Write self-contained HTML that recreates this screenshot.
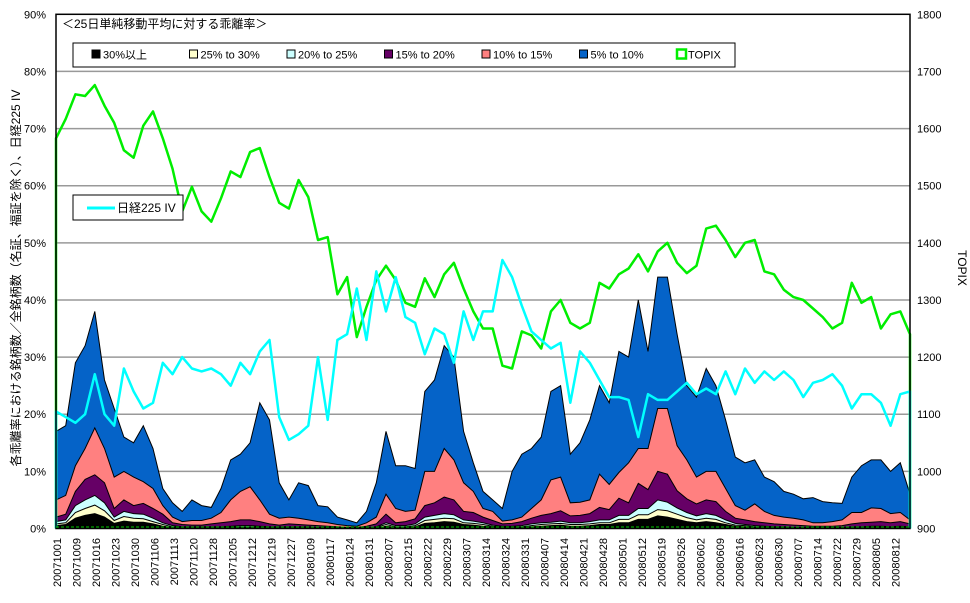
<!DOCTYPE html>
<html><head><meta charset="utf-8"><style>
html,body{margin:0;padding:0;background:#fff;}
svg{display:block;font-family:"Liberation Sans","Noto Sans CJK JP",sans-serif;}
</style></head><body>
<svg id="chart" width="970" height="603" viewBox="0 0 970 603"></svg>
<script>
// ---- data ----
const dateLabels=["20071001","20071009","20071016","20071023","20071030","20071106","20071113","20071120","20071128","20071205","20071212","20071219","20071227","20080109","20080117","20080124","20080131","20080207","20080215","20080222","20080229","20080307","20080314","20080324","20080331","20080407","20080414","20080421","20080428","20080501","20080512","20080519","20080526","20080602","20080609","20080616","20080623","20080630","20080707","20080714","20080722","20080729","20080805","20080812"];
const leftTicks=[0,10,20,30,40,50,60,70,80,90];
const rightTicks=[900,1000,1100,1200,1300,1400,1500,1600,1700,1800];
// cumulative stacked tops (% of stocks)
const cum5to10=[17,18,29,32,38,26,21,16,15,18,14,7,4.5,3,5,4,3.7,7,12,13,15,22,19,8,5,8,7.5,4,3.8,2,1.5,1,3,8,17,11,11,10.5,24,26,32,30,17,11.5,6.5,5,3.5,10,13,14,16,24,25,13,15,19,25,22,31,30,40,31,44,44,34,25,23,28,25,19,12.5,11.5,12,9,8.2,6.5,6,5.2,5.4,4.7,4.5,4.4,9,11,12,12,10,11.5,6];
const cum10to15=[5,5.8,11,14,17.6,14,9,10,9,8.2,7,4,2,1.2,1.4,1.4,1.8,2.8,5,6.5,7.3,5,2.5,1.8,2,1.8,1.5,1.2,1,0.7,0.5,0.4,1,2,6,3.5,3,3.2,10,10,14,12,8,6.5,3.5,3,1.3,1.5,2,3.5,5,8.5,9,4.5,4.6,5,9.5,7.7,9.8,11.5,14,14,21,21,14.5,12,9,10,10,7,4,3.2,4.3,3,2.3,2,1.8,1.5,1,1,1.2,1.5,2.8,2.8,3.6,3.5,2.6,2.8,1.5];
const cum15to20=[2,2.5,6.5,8.6,9.4,8,3.5,5,4,4.4,3.5,2.5,1,0.7,0.6,0.6,0.8,1,1.2,1.5,1.5,1.2,0.8,0.6,0.8,0.7,0.6,0.5,0.4,0.3,0.2,0.2,0.4,0.8,2.5,1,1.2,1.7,4,4.5,5.5,5,3,2.8,2,1.4,0.8,0.9,1.2,1.8,2.3,2.6,3.1,2.2,2.3,2.6,3.7,3.3,5.3,4.5,7.9,6.8,10,9.5,6.6,5.2,4.3,5,4.7,3,1.8,1.5,1.2,1,0.8,0.7,0.6,0.5,0.4,0.4,0.4,0.5,0.8,1,1.1,1.2,1,1.2,0.8];
const cum20to25=[1.2,1.5,4,5,5.8,4.5,2,3,2.6,2.5,1.8,1,0.5,0.3,0.3,0.3,0.3,0.3,0.4,0.5,0.5,0.4,0.3,0.3,0.3,0.3,0.3,0.2,0.2,0.2,0.1,0.1,0.2,0.3,1,0.5,0.5,0.8,2,2.3,2.6,2.4,1.5,1.3,1,0.6,0.4,0.4,0.5,0.8,1,1.1,1.3,1,1,1.2,1.5,1.5,2.3,2.3,3.5,3.5,5,4.6,3.6,2.8,2.2,2.6,2.3,1.5,0.9,0.7,0.5,0.4,0.3,0.3,0.2,0.2,0.2,0.2,0.2,0.2,0.3,0.3,0.4,0.4,0.3,0.4,0.3];
const cum25to30=[0.8,1,2.8,3.5,4.1,3.1,1.4,2.1,1.8,1.7,1.2,0.7,0.3,0.2,0.2,0.2,0.2,0.2,0.3,0.3,0.3,0.3,0.2,0.2,0.2,0.2,0.2,0.1,0.1,0.1,0.1,0.1,0.1,0.2,0.7,0.3,0.3,0.5,1.4,1.6,1.8,1.7,1,0.9,0.7,0.4,0.3,0.3,0.3,0.5,0.7,0.8,0.9,0.7,0.7,0.8,1,1,1.6,1.6,2.4,2.4,3.3,3.1,2.5,1.9,1.5,1.8,1.6,1,0.6,0.5,0.3,0.3,0.2,0.2,0.1,0.1,0.1,0.1,0.1,0.1,0.2,0.2,0.3,0.3,0.2,0.3,0.2];
const cum30plus=[0.5,0.7,1.8,2.3,2.6,2,0.9,1.3,1.1,1.1,0.8,0.4,0.2,0.1,0.1,0.1,0.1,0.1,0.2,0.2,0.2,0.2,0.1,0.1,0.1,0.1,0.1,0.1,0.1,0.1,0,0,0.1,0.1,0.4,0.2,0.2,0.3,0.9,1,1.2,1.1,0.7,0.6,0.4,0.3,0.2,0.2,0.2,0.3,0.4,0.5,0.6,0.4,0.4,0.5,0.7,0.7,1,1,1.6,1.6,2.2,2,1.6,1.2,1,1.2,1,0.7,0.4,0.3,0.2,0.2,0.1,0.1,0.1,0.1,0.1,0.1,0.1,0.1,0.1,0.1,0.2,0.2,0.1,0.2,0.1];
const topix=[1583,1617,1660,1657,1676,1640,1610,1562,1549,1605,1630,1583,1530,1455,1498,1455,1437,1478,1525,1515,1559,1566,1515,1470,1460,1510,1480,1405,1410,1310,1340,1235,1288,1335,1360,1335,1295,1288,1338,1305,1345,1365,1320,1280,1250,1250,1185,1180,1245,1238,1215,1280,1300,1260,1250,1260,1330,1320,1345,1355,1380,1350,1385,1400,1365,1347,1360,1425,1430,1405,1375,1400,1405,1350,1345,1318,1305,1300,1285,1270,1250,1260,1330,1295,1305,1250,1275,1280,1240];
const nikkeiIV=[20.5,19.5,18.5,20,27,20,18,28,24,21,22,29,27,30,28,27.5,28,27,25,29,27,31,33,19.5,15.5,16.5,18,30,19,33,34,42,33,45,38,44,37,36,30.5,35,34,29,38,33,38,38,47,44,39,34.5,33,31.5,32.5,22,31,29,26,23,23,22.5,16,23.5,22.5,22.5,24,25.5,23.5,24.5,23.5,27.5,23.5,28,25.5,27.5,26,27.5,26,23,25.5,26,27,25,21,23.5,23.5,22,18,23.5,24];

// ---- geometry ----
const X0=56,X1=910,Y0=528.5,Y90=14.3;
const N=topix.length;
const xs=i=>X0+i*(X1-X0)/(N-1);
const yL=p=>Y0-p*(Y0-Y90)/90;
const yR=v=>Y0-(v-900)*(Y0-Y90)/900;
const svg=document.getElementById('chart');
const NS='http://www.w3.org/2000/svg';
function mk(tag,attrs,parent){const e=document.createElementNS(NS,tag);for(const k in attrs)e.setAttribute(k,attrs[k]);(parent||svg).appendChild(e);return e;}

// gridlines
leftTicks.forEach(t=>{
  if(t>0&&t<90){const g=mk('line',{x1:X0,x2:X1,y1:yL(t),y2:yL(t),stroke:'#999','stroke-width':1.5});
  
  }
  const tx=mk('text',{x:46,y:yL(t)+4,'font-size':11,'text-anchor':'end'});tx.textContent=t+'%';
  
  
});
rightTicks.forEach(t=>{
  const tx=mk('text',{x:917,y:yR(t)+4,'font-size':11});tx.textContent=t;
  
  
});

// stacked areas
const layers=[[cum5to10,'#0563c8','area-5-to-10'],[cum10to15,'#ff8080','area-10-to-15'],[cum15to20,'#660066','area-15-to-20'],[cum20to25,'#ccffff','area-20-to-25'],[cum25to30,'#ffffcc','area-25-to-30'],[cum30plus,'#000000','area-30-plus']];
layers.forEach(([arr,col,name])=>{
  let d='M'+xs(0)+','+Y0;
  arr.forEach((v,i)=>{d+=' L'+xs(i).toFixed(1)+','+yL(v).toFixed(1);});
  d+=' L'+xs(N-1)+','+Y0+' Z';
  const p=mk('path',{d:d,fill:col,stroke:'#000','stroke-width':1});
  
  
});

// lines
function line(arr,yf,col,name){
  let d='M'+xs(0)+','+Y0;
  arr.forEach((v,i)=>{d+=' L'+xs(i).toFixed(1)+','+yf(v).toFixed(1);});
  d+=' L'+xs(N-1)+','+Y0;
  const p=mk('path',{d:d,fill:'none',stroke:col,'stroke-width':2.5,'stroke-linejoin':'round'});
  
  
}
line(topix,yR,'#00ee00','topix-line');
line(nikkeiIV,yL,'#00ffff','nikkei225-iv-line');

// plot border & bottom dashed
const fr=mk('rect',{x:X0,y:Y90,width:X1-X0,height:Y0-Y90,fill:'none',stroke:'#000','stroke-width':1.5});


mk('line',{x1:X0,x2:X1,y1:Y0-1.5,y2:Y0-1.5,stroke:'#00cc00','stroke-dasharray':'3,2','stroke-width':1});

// x labels
dateLabels.forEach((l,i)=>{
  const x=57+i*19.5;
  const t=mk('text',{x:0,y:0,'font-size':11,'text-anchor':'end',transform:'translate('+(x+4)+',538) rotate(-90)'});
  t.textContent=l;
  
  
});

// titles
const tt=mk('text',{x:62,y:28,'font-size':12});tt.textContent='＜25日単純移動平均に対する乖離率＞';


const yt=mk('text',{x:0,y:0,'font-size':12,'text-anchor':'middle',transform:'translate(20,278) rotate(-90)'});
yt.textContent='各乖離率における銘柄数／全銘柄数（名証、福証を除く）、日経225 IV';


const rt=mk('text',{x:0,y:0,'font-size':12,'text-anchor':'middle',transform:'translate(958,268) rotate(90)'});
rt.textContent='TOPIX';



// top legend
const lg=mk('rect',{x:73,y:43,width:662,height:24,fill:'#fff',stroke:'#000','stroke-width':1});


const legendLabels=['30%以上','25% to 30%','20% to 25%','15% to 20%','10% to 15%','5% to 10%','TOPIX'];
const legendColors=['#000000','#ffffcc','#ccffff','#660066','#ff8080','#0563c8','#fff'];
legendLabels.forEach((l,i)=>{
  const x=92+i*97.5;
  if(i<6){const r=mk('rect',{x:x,y:50,width:8,height:8,fill:legendColors[i],stroke:'#000','stroke-width':1});
    
    }
  else{const r=mk('rect',{x:x,y:49.5,width:9,height:9,fill:'#fff',stroke:'#00ee00','stroke-width':2.5});
    
    }
  const t=mk('text',{x:x+11,y:58.5,'font-size':11});t.textContent=l;
  
  
});

// inner legend
const il=mk('rect',{x:73,y:195,width:110,height:25,fill:'#fff',stroke:'#000','stroke-width':1});


mk('line',{x1:87,x2:115,y1:208,y2:208,stroke:'#00ffff','stroke-width':3});
const ilt=mk('text',{x:117,y:212,'font-size':12});ilt.textContent='日経225 IV';


</script>
</body></html>
